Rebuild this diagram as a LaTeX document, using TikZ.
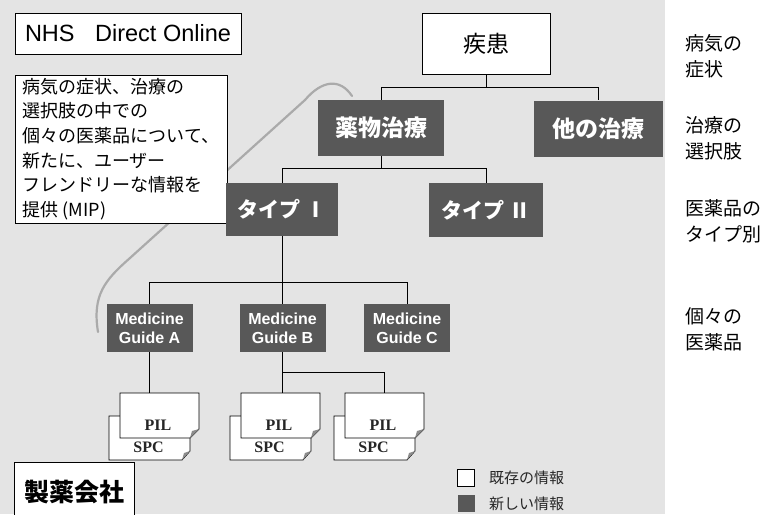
\documentclass[tikz,border=0pt]{standalone}
\usepackage{fontspec}
\setmainfont{Noto Sans CJK JP}
\newfontfamily\arialf{Liberation Sans}
\newfontfamily\seriff{Liberation Serif}
\newcommand\fsz[2]{\fontsize{#1}{#2}\selectfont}
\definecolor{bgspeck}{RGB}{228,228,228}
\definecolor{darkfill}{RGB}{88,88,88}
\definecolor{arcgray}{RGB}{170,170,170}
\newcommand\docpair[3]{%
  \begin{scope}[shift={(#2,#3)}]
    \draw[docline] (-11,23) -- (70,23) -- (70,58) -- (62,67) -- (-11,67) -- cycle;
    \fill[black!45] (70,58) -- (64,60) -- (62,67) -- cycle;
    \draw[docline] (0,0) -- (79,0) -- (79,36) -- (70,45) -- (0,45) -- cycle;
    \fill[black!45] (79,36) -- (72,38) -- (70,45) -- cycle;
    \node[inner sep=0pt, minimum width=79, minimum height=45] (#1) at (39.5,22.5) {};
    \node[doctext] (#1pil) at (38,32) {PIL};
    \node[doctext] (#1spc) at (28.5,54) {SPC};
  \end{scope}}
\begin{document}
\begin{tikzpicture}[x=1pt,y=-1pt,
  wbox/.style={draw=black, line width=0.8pt, fill=white, inner sep=0pt},
  dbox/.style={fill=darkfill, text=white, inner sep=0pt, font=\bfseries\fsz{23}{26}},
  gbox/.style={fill=darkfill, text=white, inner sep=0pt, minimum width=86, minimum height=48,
               align=center, font=\arialf\bfseries\fsz{16}{19}},
  conn/.style={draw=black, line width=0.8pt},
  docline/.style={draw=black, line width=0.8pt, fill=white},
  doctext/.style={inner sep=0pt, text=black!85, font=\seriff\bfseries\fsz{16}{18}},
  sidelabel/.style={anchor=west, align=left, inner sep=0pt, text=black, font=\fsz{19}{26}},
  legtext/.style={anchor=west, inner sep=0pt, text=black!85, font=\fsz{15}{18}},
  arcline/.style={draw=arcgray, line width=2.2pt, line cap=round}]
\clip (0,0) rectangle (783,514);
\fill[white] (0,0) rectangle (783,514);
\fill[bgspeck] (0,0) rectangle (665,514);

% gray arc
\draw[arcline] (98,332) .. controls (92,295) and (105,280) .. (130,258) -- (305,100)
   .. controls (322,80) and (340,78) .. (352,96);

% top-left boxes
\node[wbox, minimum width=226, minimum height=41, font=\arialf\fsz{23.5}{26}] (nhs) at (128,33.5)
  {NHS\hspace{14pt} Direct Online};
\node[wbox, minimum width=212, minimum height=148, align=left, font=\fsz{18}{24.6}] (mip) at (121,149)
  {病気の症状、治療の\\選択肢の中での\\個々の医薬品について、\\新たに、ユーザー\\フレンドリーな情報を\\提供 (MIP)};

% hierarchy
\node[wbox, minimum width=128, minimum height=61, font=\fsz{23}{26}] (shikkan) at (486,43.5) {疾患};
\node[dbox, minimum width=126, minimum height=56] (yaku) at (381,128) {薬物治療};
\node[dbox, minimum width=129, minimum height=56] (hoka) at (598.5,128.5) {他の治療};
\node[dbox, minimum width=112, minimum height=53, font=\bfseries\fsz{21}{24}] (type1) at (282,209.5) {タイプ Ⅰ};
\node[dbox, minimum width=114, minimum height=54, font=\bfseries\fsz{21}{24}] (type2) at (486,210) {タイプ Ⅱ};
\node[gbox] (guideA) at (149.5,328) {Medicine\\Guide A};
\node[gbox] (guideB) at (282.5,328) {Medicine\\Guide B};
\node[gbox] (guideC) at (407,328) {Medicine\\Guide C};

\coordinate (j1) at (486,87);
\coordinate (j2) at (381,168);
\coordinate (j3) at (282,282);
\coordinate (j4) at (282.5,372);

\draw[conn] (shikkan.south) -- (j1);
\draw[conn] (yaku.north) -- (yaku.north |- j1) -- (hoka.north |- j1) -- (hoka.north);
\draw[conn] (yaku.south) -- (j2);
\draw[conn] (type1.north) -- (type1.north |- j2) -- (type2.north |- j2) -- (type2.north);
\draw[conn] (type1.south) -- (j3);
\draw[conn] (guideA.north) -- (guideA.north |- j3) -- (guideC.north |- j3) -- (guideC.north);
\draw[conn] (guideB.north) -- (guideB.north |- j3);

% documents
\docpair{docA}{120}{393}
\docpair{docB}{241}{393}
\docpair{docC}{345}{393}

\draw[conn] (guideA.south) -- (guideA.south |- docA.north);
\draw[conn] (guideB.south) -- (guideB.south |- docB.north);
\draw[conn] (j4) -- (docC.north |- j4) -- (docC.north);

% company
\node[wbox, minimum width=120, minimum height=60, font=\bfseries\fsz{25}{28}] (seiyaku) at (74,492) {製薬会社};

% side labels
\node[sidelabel] (lab1) at (685,56) {病気の\\症状};
\node[sidelabel] (lab2) at (685,138) {治療の\\選択肢};
\node[sidelabel] (lab3) at (685,221.5) {医薬品の\\タイプ別};
\node[sidelabel] (lab4) at (685,329.5) {個々の\\医薬品};

% legend
\node[wbox, minimum width=17, minimum height=17] (legW) at (466,477.5) {};
\node[fill=darkfill, inner sep=0pt, minimum width=17, minimum height=17] (legD) at (466,503.5) {};
\node[legtext] (legWt) at (489,477.5) {既存の情報};
\node[legtext] (legDt) at (489,503.5) {新しい情報};
\end{tikzpicture}
\end{document}
